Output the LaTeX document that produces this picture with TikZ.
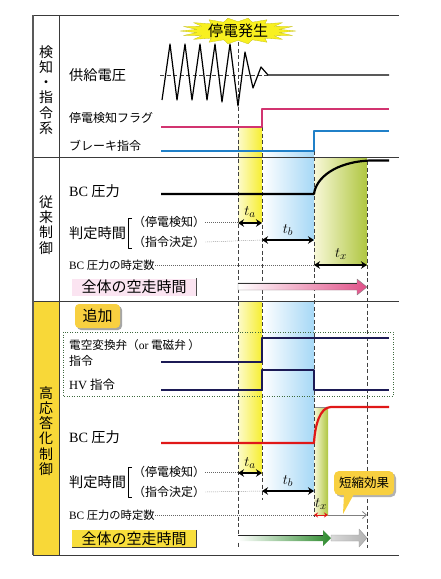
\documentclass[tikz,border=0pt]{standalone}
\usepackage{fontspec}
\setmainfont{Liberation Serif}
\newfontfamily\jp{Noto Sans CJK JP}
\usetikzlibrary{arrows.meta}
\definecolor{frameC}{HTML}{3A3A3A}
\definecolor{flagC}{HTML}{D23470}
\definecolor{brkC}{HTML}{2080C8}
\definecolor{navyC}{HTML}{1C1A55}
\definecolor{redC}{HTML}{E01818}
\definecolor{bandY}{HTML}{F6EE30}
\definecolor{bandC}{HTML}{A6D8F6}
\definecolor{bandG}{HTML}{AFC640}
\definecolor{bandGl}{HTML}{F8F8D8}
\definecolor{pinkBox}{HTML}{FBE4F1}
\definecolor{pinkA}{HTML}{E05088}
\definecolor{yelBox}{HTML}{F8DE3C}
\definecolor{tagY}{HTML}{F8D040}
\definecolor{greenA}{HTML}{2E8B2E}
\definecolor{dotG}{HTML}{3E6A3E}
\definecolor{colY}{HTML}{F8D838}
\definecolor{burstY}{HTML}{F8F020}
\begin{document}
\begin{tikzpicture}[x=1pt,y=-1pt,line join=round,
  lab/.style={anchor=west,inner sep=0pt,font=\jp\fontsize{12}{14}\selectfont},
  labL/.style={anchor=west,inner sep=0pt,font=\jp\fontsize{14.2}{16}\selectfont},
  labS/.style={anchor=west,inner sep=0pt,font=\jp\fontsize{11.3}{13}\selectfont},
  vt/.style={align=center,inner sep=0pt,font=\jp\fontsize{14}{15.3}\selectfont},
  frame/.style={draw=frameC,line width=0.9pt},
  sig/.style={line width=2.2pt},
  vdash/.style={draw=black!75,line width=0.6pt,dash pattern=on 4pt off 2.5pt},
  dotl/.style={draw=black!60,line width=0.45pt,dash pattern=on 0.8pt off 1.2pt},
  dim/.style={line width=1.3pt,{Stealth[length=6pt,width=7.5pt]}-{Stealth[length=6pt,width=7.5pt]}},
  tl/.style={inner sep=0pt,font=\fontsize{15}{16}\selectfont},
  tagbox/.style={fill=tagY,rounded corners=4pt,inner sep=0pt,font=\jp\fontsize{15}{16}\selectfont},
  runbox/.style={minimum width=124pt,minimum height=17pt,inner sep=0pt,font=\jp\fontsize{15}{16}\selectfont},
]
\useasboundingbox (0,0) rectangle (440,579);

% ---------- bands ----------
\shade[left color=bandY!25,right color=bandY] (238,128) rectangle (262,222);
\shade[left color=white,right color=bandC] (262,152) rectangle (314,240);
\shade[left color=bandGl,right color=bandG] (314,157) rectangle (367,265);
\fill[colY] (33,301) rectangle (59,555);
\shade[left color=bandY!25,right color=bandY] (238,301) rectangle (262,473);
\shade[left color=white,right color=bandC] (262,301) rectangle (314,491);
\shade[left color=bandGl,right color=bandG] (314,407) rectangle (328,515);
\draw[black!45,line width=0.4pt] (314,407) -- (328,407);

% ---------- frame ----------
\draw[frame] (33,15) -- (399,15);
\draw[frame] (33,157) -- (399,157);
\draw[frame] (33,301) -- (399,301);
\draw[frame] (33,555) -- (399,555);
\draw[frame] (59,15) -- (59,555);
\draw[draw=black!65,line width=1.8pt] (33,15) -- (33,555);

% ---------- section titles ----------
\node[vt] (s1) at (46,90) {検\\知\\・\\指\\令\\系};
\node[vt] (s2) at (46,225) {従\\来\\制\\御};
\node[vt] (s3) at (46,431) {高\\応\\答\\化\\制\\御};

% ---------- time markers ----------
\draw[vdash] (238,42) -- (238,548);
\draw[vdash] (262,127) -- (262,500);
\draw[vdash] (314,131) -- (314,517);
\draw[vdash] (367,161) -- (367,548);

% ---------- top section ----------
\node[labL] (v) at (69,75) {供給電圧};
\node[lab] (f) at (69,118) {停電検知フラグ};
\node[lab] (b) at (69,146) {ブレーキ指令};
\draw[vdash,line width=0.5pt] (160,75) -- (268,75);
\draw[line width=1.2pt] (162,100) -- (170,44) -- (177,100) -- (185,44) -- (192,100) -- (200,44)
  -- (207,100) -- (215,44) -- (222,102) -- (230,44) -- (238,106) -- (245,52) -- (253,88)
  -- (261,67) -- (268,75) -- (389,75);
\draw[sig,flagC] (161,127) -- (262,127) -- (262,109) -- (389,109);
\draw[sig,brkC] (161,151) -- (314,151) -- (314,131) -- (389,131);
\filldraw[fill=burstY,draw=burstY!80!black,line width=0.3pt]
  plot[samples at={0,10,...,350}] ({238+58*(0.86+0.14*cos(18*\x))*cos(\x)},{31+13*(0.86+0.14*cos(18*\x))*sin(\x)}) -- cycle;
\node[inner sep=0pt,font=\jp\fontsize{15}{16}\selectfont] (burst) at (238,31) {停電発生};

% ---------- conventional ----------
\node[labL] (bc1) at (69,191) {\textrm{BC} 圧力};
\draw[line width=2.2pt] (161,194) -- (314,194) .. controls (316,178) and (335,162) .. (370,160.5) -- (389,160.5);
\node[labL] (j1) at (69,233) {判定時間};
\draw[line width=0.8pt] (132,218) -- (128,218) -- (128,248) -- (132,248);
\node[lab] (p1) at (133,222) {（停電検知）};
\node[lab] (q1) at (133,242) {（指令決定）};
\coordinate (p1e) at (238,222);
\coordinate (q1e) at (262,240);
\draw[dotl] (p1.east) -- (p1e);
\draw[dotl] (q1.east) -- (q1e);
\node[labS] (tc1) at (69,265) {\textrm{BC} 圧力の時定数};
\coordinate (tc1e) at (314,265);
\draw[dotl] (tc1.east) -- (tc1e);
\coordinate (ta1L) at (238,223); \coordinate (ta1R) at (262,223);
\coordinate (tb1L) at (262,240); \coordinate (tb1R) at (314,240);
\coordinate (tx1L) at (314,265); \coordinate (tx1R) at (367,265);
\draw[dim] (ta1L) -- (ta1R);
\draw[dim] (tb1L) -- (tb1R);
\draw[dim] (tx1L) -- (tx1R);
\node[tl] (ta1) at (250,212) {$t_a$};
\node[tl] (tb1) at (288,230) {$t_b$};
\node[tl] (tx1) at (341,254) {$t_x$};
\node[runbox,fill=pinkBox] (all1) at (134,287) {全体の空走時間};
\draw[black!70,line width=0.6pt] (all1.north east) -- (all1.south east);
\shadedraw[left color=white,right color=pinkA,draw=black!50,line width=0.4pt]
  (238,283) -- (357,283) -- (357,279) -- (367,287) -- (357,295) -- (357,290) -- (238,290) -- cycle;
\draw[black!80,line width=0.6pt] (238,283) -- (357,283);

% ---------- high response ----------
\fill[black!35,rounded corners=4pt] (77,306) rectangle (122,330);
\node[tagbox,minimum width=45pt,minimum height=24pt] (add) at (97.5,316) {追加};
\draw[dotG,line width=0.7pt,dash pattern=on 1pt off 1.5pt] (63,332) rectangle (393,396);
\node[lab,font=\jp\fontsize{11.6}{14}\selectfont] (ev) at (69,345) {電空変換弁（\textrm{or} 電磁弁 ）};
\node[lab] (ev2) at (69,361) {指令};
\node[lab,font=\jp\fontsize{12.5}{14}\selectfont] (hv) at (69,385) {\textrm{HV} 指令};
\draw[sig,navyC] (161,362) -- (262,362) -- (262,338) -- (389,338);
\draw[sig,navyC] (161,390) -- (262,390) -- (262,370) -- (314,370) -- (314,390) -- (389,390);

\node[labL] (bc2) at (69,437) {\textrm{BC} 圧力};
\draw[sig,redC] (161,443) -- (314,443) .. controls (315,425) and (320,407) .. (331,407) -- (389,407);
\node[labL] (j2) at (69,482) {判定時間};
\draw[line width=0.8pt] (132,467) -- (128,467) -- (128,497) -- (132,497);
\node[lab] (p2) at (133,472) {（停電検知）};
\node[lab] (q2) at (133,492) {（指令決定）};
\coordinate (p2e) at (238,472);
\coordinate (q2e) at (262,491);
\draw[dotl] (p2.east) -- (p2e);
\draw[dotl] (q2.east) -- (q2e);
\node[labS] (tc2) at (69,515) {\textrm{BC} 圧力の時定数};
\coordinate (tc2e) at (314,515);
\draw[dotl] (tc2.east) -- (tc2e);
\coordinate (ta2L) at (238,473); \coordinate (ta2R) at (262,473);
\coordinate (tb2L) at (262,491); \coordinate (tb2R) at (314,491);
\coordinate (tx2L) at (314,515); \coordinate (tx2R) at (328,515);
\coordinate (sh2R) at (367,515);
\draw[dim] (ta2L) -- (ta2R);
\draw[dim] (tb2L) -- (tb2R);
\draw[line width=1pt,redC,{Stealth[length=4pt,width=5pt]}-{Stealth[length=4pt,width=5pt]}] (tx2L) -- (tx2R);
\draw[black!50,line width=0.8pt,-{Straight Barb[length=4pt,width=7pt]}] (tx2R) -- (sh2R);
\node[tl] (ta2) at (250,463) {$t_a$};
\node[tl] (tb2) at (288,481) {$t_b$};
\node[tl] (tx2) at (321,504) {$t_x$};

\fill[black!30,rounded corners=5pt] (336,473) rectangle (396,497);
\fill[tagY] (344,494) -- (343,514) -- (354,494) -- cycle;
\node[tagbox,rounded corners=5pt,minimum width=60pt,minimum height=24pt,font=\jp\fontsize{12.5}{14}\selectfont] (short) at (364,483) {短縮効果};

\node[runbox,fill=yelBox] (all2) at (134,538.5) {全体の空走時間};
\draw[black!75,line width=0.6pt] (all2.north east) -- (all2.south east) -- (all2.south west);
\shade[left color=white,right color=greenA]
  (238,535) -- (323,535) -- (323,530) -- (331,538) -- (323,546) -- (323,541) -- (238,541) -- cycle;
\draw[black!85,line width=0.6pt] (238,535) -- (323,535);
\shadedraw[left color=black!15,right color=black!30,draw=black!40,line width=0.4pt]
  (331,535) -- (359,535) -- (359,529) -- (367,538) -- (359,547) -- (359,541) -- (331,541) -- cycle;
\end{tikzpicture}
\end{document}
